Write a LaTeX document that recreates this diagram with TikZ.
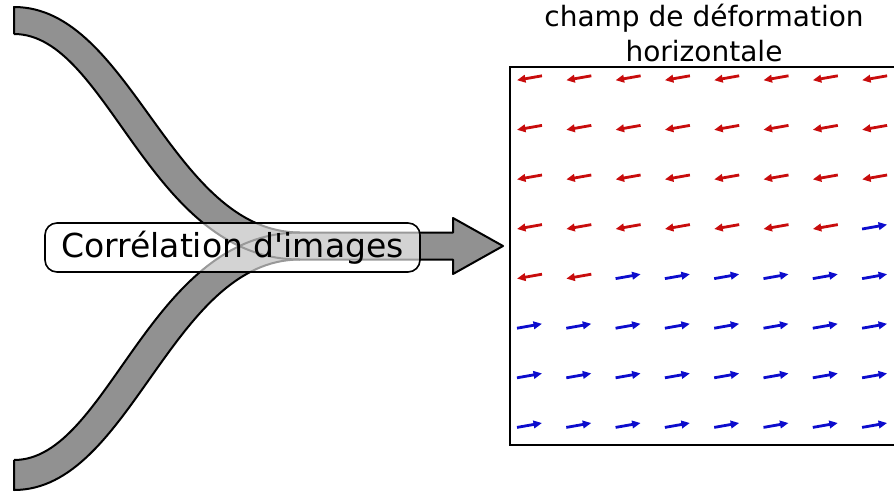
\documentclass[tikz,border=0pt]{standalone}
\usepackage{fontspec}
\setmainfont{DejaVu Sans}[Ligatures=TeXOff]
\usetikzlibrary{arrows.meta}
\definecolor{bandgray}{RGB}{145,145,145}
\definecolor{fr}{RGB}{200,12,12}
\definecolor{fb}{RGB}{12,12,205}
\begin{document}
\begin{tikzpicture}[x=1pt,y=-1pt,
  bandfill/.style={fill=bandgray,draw=none},
  bandedge/.style={draw=black,line width=2pt,line join=round},
  vec/.style={line width=2.8pt,-{Triangle[length=8.5pt,width=7.5pt]}},
  labelbox/.style={draw=black,line width=1.6pt,rounded corners=12pt,fill=white,fill opacity=0.6,text opacity=1,
    minimum width=375pt,minimum height=49pt,inner sep=0pt,font=\fontsize{33}{40}\selectfont},
  titletext/.style={align=center,inner sep=0pt,font=\fontsize{28}{35}\selectfont}]
\useasboundingbox (0,0) rectangle (894,491);
% coordinates of the band ends and the arrow
\coordinate (tu0) at (14,7);   \coordinate (tl0) at (14,34);
\coordinate (bu0) at (14,460); \coordinate (bl0) at (14,490);
\coordinate (su) at (300,232.5); \coordinate (sl) at (300,259.5);
\coordinate (hu) at (453,232.5); \coordinate (hl) at (453,259.5);
\coordinate (hut) at (453,218); \coordinate (hlt) at (453,274);
\coordinate (tip) at (503,246);
% gray fills
\path[bandfill] (tu0) .. controls (131,7) and (171,232.5) .. (su) -- (sl)
   .. controls (148.7,259.5) and (108.7,34) .. (tl0) -- cycle;
\path[bandfill] (bl0) .. controls (131,490) and (171,259.5) .. (sl) -- (su)
   .. controls (148.7,232.5) and (108.7,460) .. (bu0) -- cycle;
\path[bandfill] (su) -- (hu) -- (hut) -- (tip) -- (hlt) -- (hl) -- (sl) -- cycle;
% outlines
\draw[bandedge] (tl0) -- (tu0) .. controls (131,7) and (171,232.5) .. (su) -- (hu) -- (hut) -- (tip)
   -- (hlt) -- (hl) -- (sl) .. controls (171,259.5) and (131,490) .. (bl0) -- (bu0);
\draw[bandedge] (tl0) .. controls (108.7,34) and (148.7,259.5) .. (sl);
\draw[bandedge] (bu0) .. controls (108.7,460) and (148.7,232.5) .. (su);
% label box
\node[labelbox] (corr) at (232.5,247.5) {Corrélation d'images};
% title
\node[titletext,anchor=south] (title) at (704,62) {champ de déformation\\horizontale};
% field frame
\coordinate (fr1) at (894,67); \coordinate (fr2) at (510,67);
\coordinate (fr3) at (510,445); \coordinate (fr4) at (894,445);
\draw[line width=2.4pt] (fr1) -- (fr2) -- (fr3) -- (fr4);
% vector field
\foreach \i in {0,...,7}{
  \foreach \j in {0,...,7}{
    \pgfmathsetmacro\cx{529.5+49.3*\j}
    \pgfmathsetmacro\cy{78+49.6*\i}
    \pgfmathtruncatemacro\code{\i*8+\j}
    \def\isred{0}
    \ifnum\code<31 \def\isred{1}\fi
    \ifnum\code=32 \def\isred{1}\fi
    \ifnum\code=33 \def\isred{1}\fi
    \ifnum\isred=1
      \draw[vec,fr] (\cx+12.5,\cy-2.2) -- (\cx-12.5,\cy+2.2);
    \else
      \draw[vec,fb] (\cx-12.5,\cy+2.2) -- (\cx+12.5,\cy-2.2);
    \fi
  }
}
\end{tikzpicture}
\end{document}
